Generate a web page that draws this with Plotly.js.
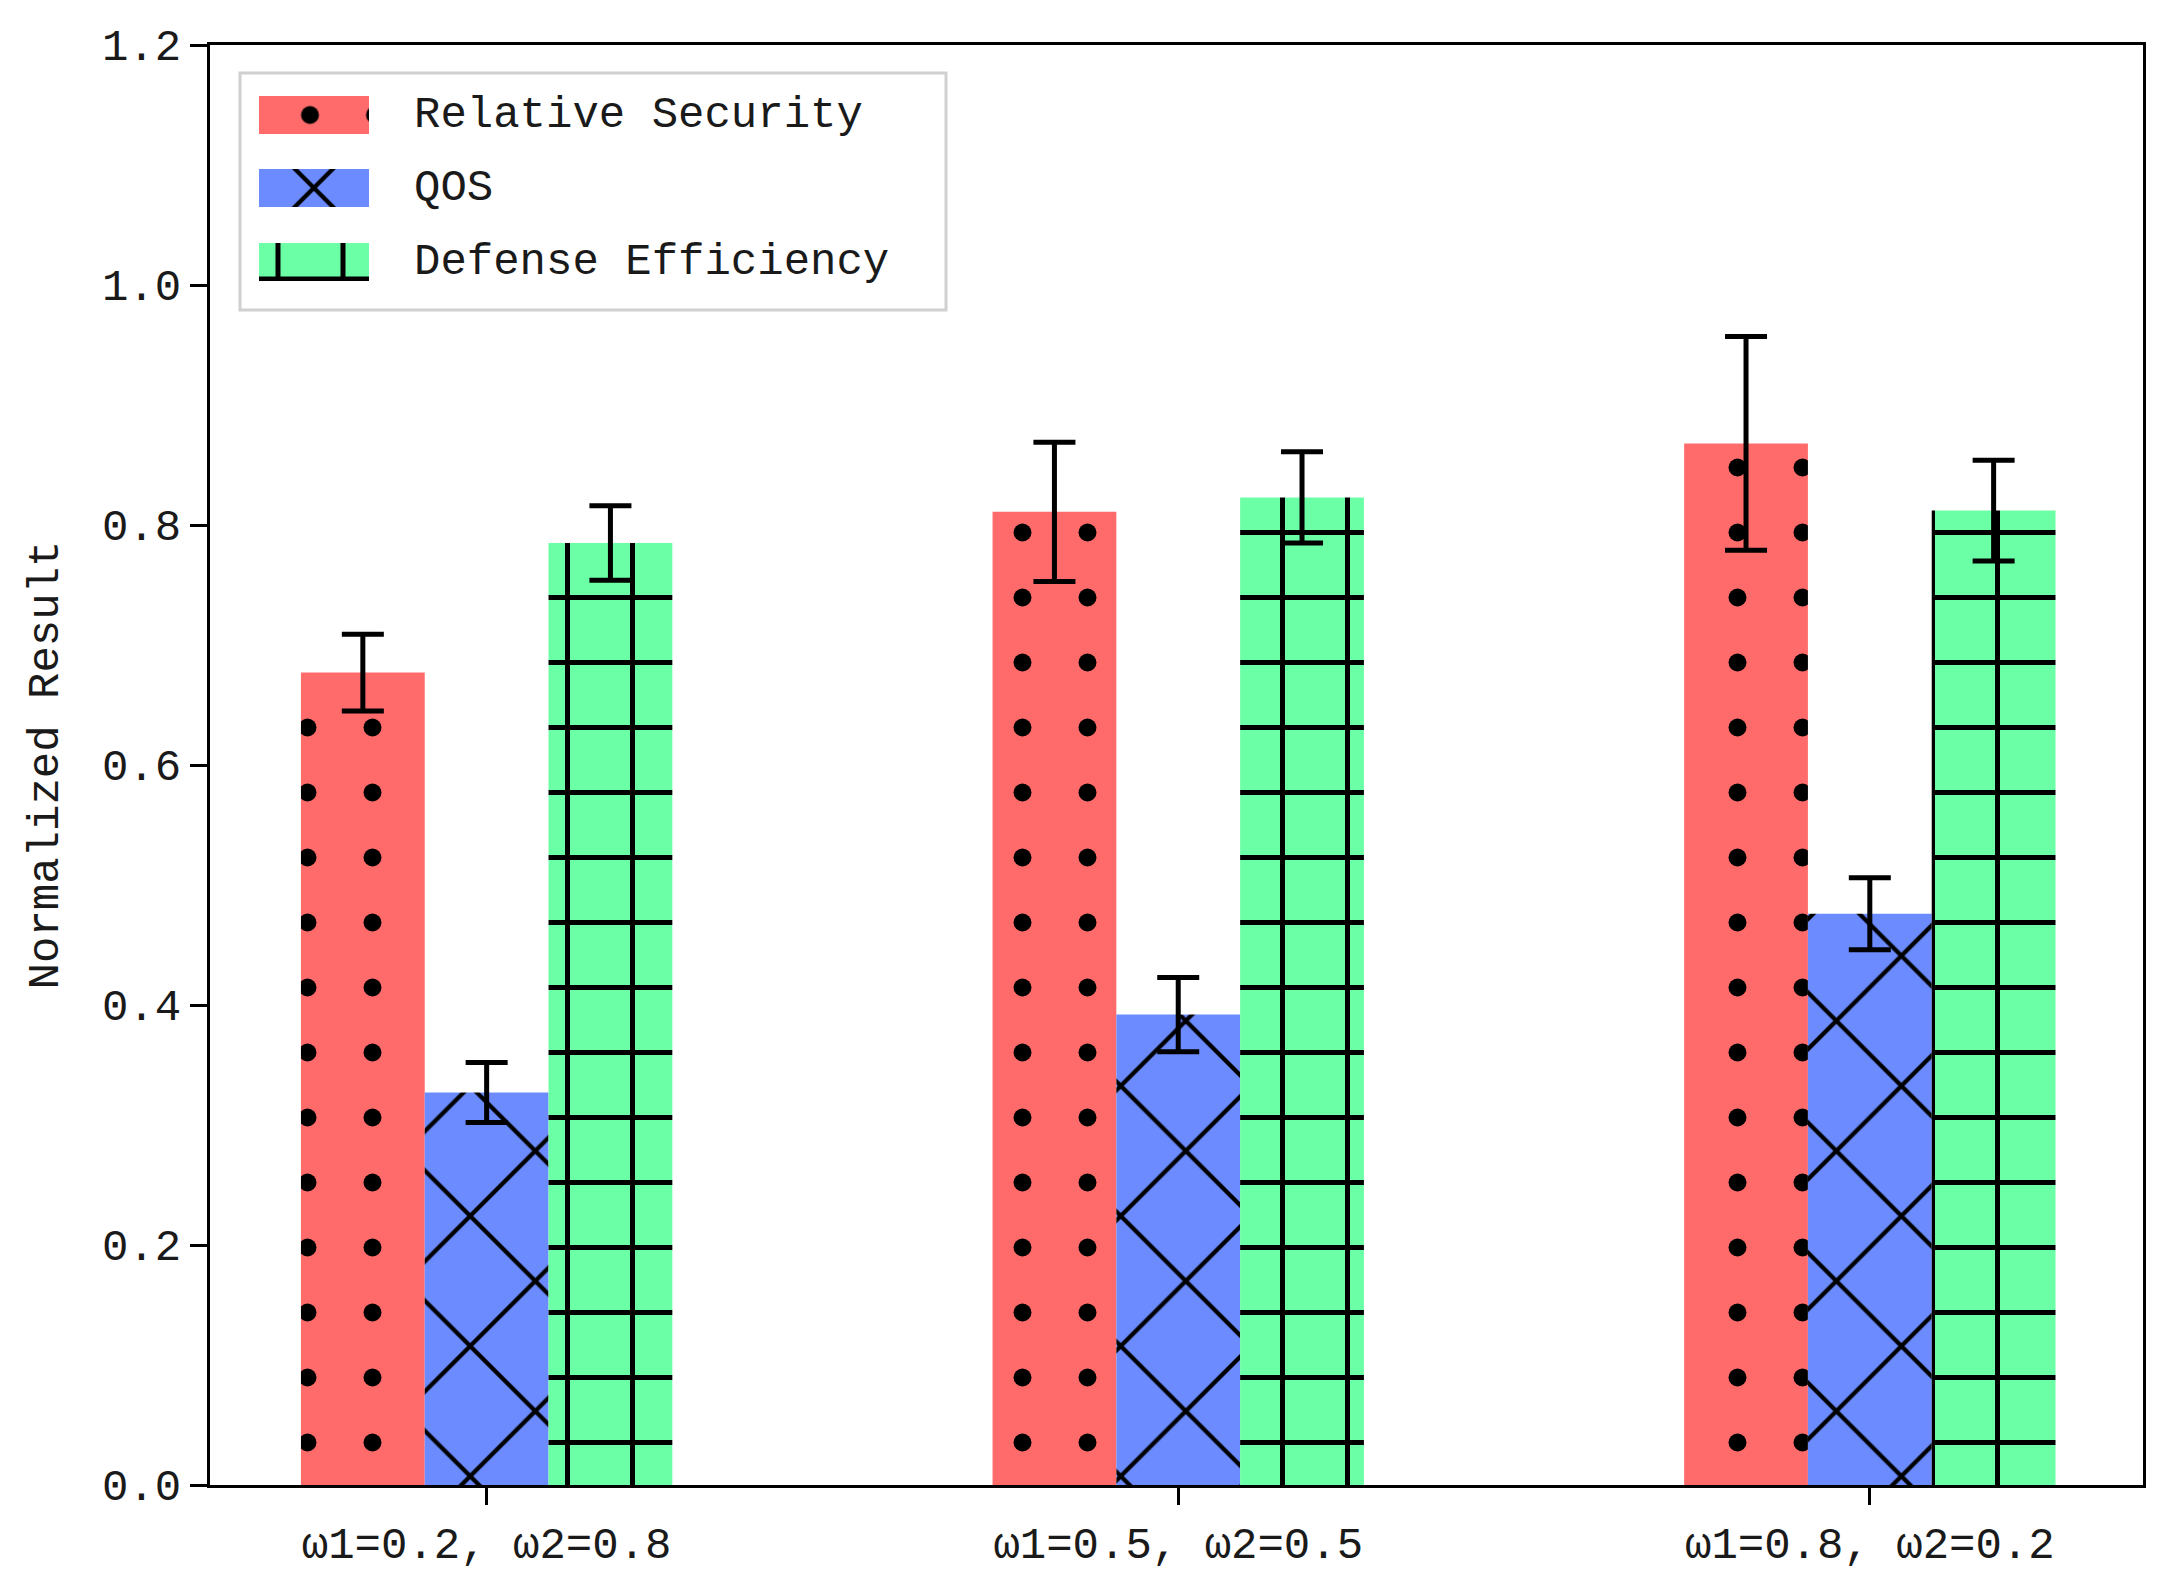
<!DOCTYPE html>
<html>
<head>
<meta charset="utf-8">
<script src="https://cdn.plot.ly/plotly-3.0.1.min.js"></script>
<style>
  html, body { margin: 0; padding: 0; background: #fff; }
  #plot { width: 2165px; height: 1595px; }
</style>
</head>
<body>
<div id="plot"></div>
<script>
// data
const categories = ['ω1=0.2, ω2=0.8', 'ω1=0.5, ω2=0.5', 'ω1=0.8, ω2=0.2'];
const seriesNames = ['Relative Security', 'QOS', 'Defense Efficiency'];

const securityValues = [0.677, 0.811, 0.868];
const securityErrors = [0.032, 0.058, 0.089];
const qosValues = [0.327, 0.392, 0.476];
const qosErrors = [0.025, 0.031, 0.030];
const defenseValues = [0.785, 0.823, 0.812];
const defenseErrors = [0.031, 0.038, 0.042];

const yTicks = [0, 0.2, 0.4, 0.6, 0.8, 1.0, 1.2];

function runPlot() {
    var plotdiv = document.querySelector('#plot');

    var W = 2165, H = 1595;
    var margin = { l: 210, r: 22, t: 45, b: 110 };
    var pw = W - margin.l - margin.r;
    var ph = H - margin.t - margin.b;
    // pixel -> paper helpers (for the hand made legend)
    var px = function (x) { return (x - margin.l) / pw; };
    var py = function (y) { return (margin.t + ph - y) / ph; };

    var font = 'Liberation Mono, DejaVu Sans Mono, monospace';
    var textColor = '#1a1a1a';

    var colors = ['#ff6b6b', '#6b8bff', '#6bffa6'];
    var patterns = [
        { shape: '.', size: 65, solidity: 0.06 },
        { shape: 'x', size: 92, solidity: 0.09 },
        { shape: '+', size: 65, solidity: 0.148 },
    ];
    var values = [securityValues, qosValues, defenseValues];
    var errors = [securityErrors, qosErrors, defenseErrors];

    function markerFor(i, size, solidity) {
        return {
            color: colors[i],
            line: { width: 0 },
            pattern: {
                shape: patterns[i].shape,
                size: size || patterns[i].size,
                solidity: solidity || patterns[i].solidity,
                fgcolor: '#000',
                bgcolor: colors[i],
                fillmode: 'replace',
            },
        };
    }

    var data = [];
    for (var i = 0; i < 3; i++) {
        data.push({
            type: 'bar',
            name: seriesNames[i],
            x: categories,
            y: values[i],
            marker: markerFor(i),
            error_y: { type: 'data', array: errors[i], visible: true, color: '#000', thickness: 5, width: 21 },
            showlegend: false,
            hoverinfo: 'y',
        });
    }

    var layout = {
        width: W,
        height: H,
        margin: margin,
        paper_bgcolor: '#fff',
        plot_bgcolor: 'rgba(0,0,0,0)',
        barmode: 'group',
        bargap: 0.463,
        bargroupgap: 0,
        showlegend: false,
        font: { family: font, size: 44, color: textColor },
        xaxis: {
            type: 'category',
            range: [-0.4, 2.395],
            showline: true,
            mirror: true,
            linecolor: '#000',
            linewidth: 3,
            ticks: 'outside',
            ticklen: 17,
            tickwidth: 3,
            tickcolor: '#000',
            showgrid: false,
            tickfont: { family: font, size: 44, color: textColor },
            fixedrange: true,
        },
        yaxis: {
            range: [0, 1.2],
            tickvals: yTicks,
            tickformat: '.1f',
            showline: true,
            mirror: true,
            linecolor: '#000',
            linewidth: 3,
            ticks: 'outside',
            ticklen: 17,
            tickwidth: 3,
            tickcolor: '#000',
            showgrid: false,
            zeroline: false,
            tickfont: { family: font, size: 44, color: textColor },
            title: { text: 'Normalized Result', standoff: 30, font: { family: font, size: 44, color: textColor } },
            fixedrange: true,
        },
        shapes: [{
            type: 'rect',
            xref: 'paper', yref: 'paper',
            x0: px(240), x1: px(946), y0: py(73), y1: py(310),
            line: { color: '#d0d0d0', width: 3 },
            fillcolor: 'rgba(255,255,255,0.85)',
            layer: 'below',
        }],
        annotations: [],
    };

    // legend: one tiny subplot per swatch, so the pattern tiles line up
    // like the matplotlib legend (origin = subplot top left, in px)
    var swL = 259, swR = 369, swH = 38;
    var rowY = [115, 188, 262];
    var origins = [[212.5, 82.5], [229, 103], [245.5, 181.5]];
    var legendSizes = [65, 120, 65];
    var legendSolidity = [0.06, 0.07, 0.148];
    for (var i = 0; i < 3; i++) {
        var n = i + 2;
        var ox = origins[i][0], oy = origins[i][1];
        var bottom = rowY[i] + swH / 2;
        layout['xaxis' + n] = {
            domain: [px(ox), px(swR)], range: [0, swR - ox],
            anchor: 'y' + n, visible: false, fixedrange: true,
        };
        layout['yaxis' + n] = {
            domain: [py(bottom), py(oy)], range: [bottom - oy, 0],
            anchor: 'x' + n, visible: false, fixedrange: true,
        };
        data.push({
            type: 'bar',
            orientation: 'h',
            x: [swR - swL],
            y: [rowY[i] - oy],
            base: swL - ox,
            width: swH,
            offset: -swH / 2,
            xaxis: 'x' + n,
            yaxis: 'y' + n,
            marker: markerFor(i, legendSizes[i], legendSolidity[i]),
            showlegend: false,
            hoverinfo: 'skip',
        });
        layout.annotations.push({
            xref: 'paper', yref: 'paper',
            x: px(412), y: py(rowY[i]),
            xanchor: 'left', yanchor: 'middle',
            text: seriesNames[i], showarrow: false,
            font: { family: font, size: 44, color: textColor },
        });
    }

    var config = { displayModeBar: false, staticPlot: true };

    Plotly.newPlot(plotdiv, data, layout, config);
}

runPlot();
</script>
</body>
</html>
